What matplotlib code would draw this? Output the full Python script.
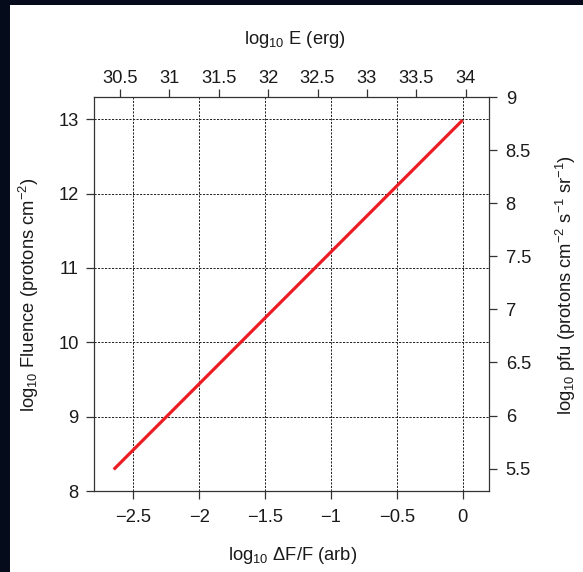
import matplotlib
matplotlib.use("Agg")
import matplotlib.pyplot as plt
from matplotlib.patches import Rectangle

plt.rcParams['font.family'] = ['Liberation Sans', 'DejaVu Sans']
plt.rcParams['mathtext.fontset'] = 'custom'
plt.rcParams['mathtext.rm'] = 'Liberation Sans'
plt.rcParams['mathtext.it'] = 'Liberation Sans'
plt.rcParams['mathtext.default'] = 'regular'

# Scaling relation: log10 fluence versus log10 dF/F
dff = [-2.65, 0.0]
fluence = [8.29, 12.99]

x_ticks = [-2.5, -2, -1.5, -1, -0.5, 0]
y_ticks = [8, 9, 10, 11, 12, 13]
energy_ticks = [30.5, 31, 31.5, 32, 32.5, 33, 33.5, 34]
pfu_ticks = [5.5, 6, 6.5, 7, 7.5, 8, 8.5, 9]

# axis conversions
E0, E_slope = 33.97, 4.0 / 3.0
P0, P_slope = -0.31, 0.7


def dff_to_E(x):
    return E0 + E_slope * x


def E_to_dff(e):
    return (e - E0) / E_slope


def flu_to_pfu(f):
    return P0 + P_slope * f


def pfu_to_flu(p):
    return (p - P0) / P_slope


W, H = 583, 572
FS = 13.2
fig = plt.figure(figsize=(W / 100, H / 100), dpi=100)
fig.patch.set_facecolor('#050b1a')
fig.add_artist(Rectangle((10 / W, 0), 1 - 10 / W, 1 - 5 / H,
                         transform=fig.transFigure, facecolor='white',
                         edgecolor='none', zorder=0))

ax = fig.add_axes([94 / W, 1 - 491 / H, (489 - 94) / W, (491 - 97) / H])
ax.set_facecolor('white')
ax.set_xlim(-2.8, 0.2)
ax.set_ylim(8, 13.3)

ax.plot(dff, fluence, color='#ec1c24', lw=2.3, solid_capstyle='butt', zorder=3)

grid_kw = dict(color='#222222', lw=0.7, linestyle=(0, (2.2, 1.4)), zorder=1)
for xv in x_ticks:
    ax.axvline(xv, **grid_kw)
for yv in y_ticks[1:]:
    ax.axhline(yv, **grid_kw)

txt = '#1a1a1a'
for s in ax.spines.values():
    s.set_color('#333333')
    s.set_linewidth(0.9)

ax.set_xticks(x_ticks)
ax.set_xticklabels(['\u22122.5', '\u22122', '\u22121.5', '\u22121', '\u22120.5', '0'])
ax.set_yticks(y_ticks)
ax.tick_params(direction='out', length=6, width=0.9, color='#333333',
               labelsize=FS, labelcolor=txt, pad=5)
ax.tick_params(axis='x', pad=7)

secx = ax.secondary_xaxis('top', functions=(dff_to_E, E_to_dff))
secx.set_xticks(energy_ticks)
secx.set_xticklabels(['30.5', '31', '31.5', '32', '32.5', '33', '33.5', '34'])
secx.tick_params(direction='out', length=6, width=0.9, color='#333333',
                 labelsize=FS, labelcolor=txt, pad=1)
secx.spines['top'].set_visible(False)

secy = ax.secondary_yaxis('right', functions=(flu_to_pfu, pfu_to_flu))
secy.set_yticks(pfu_ticks)
secy.set_yticklabels(['5.5', '6', '6.5', '7', '7.5', '8', '8.5', '9'])
secy.tick_params(direction='out', length=6, width=0.9, color='#333333',
                 labelsize=FS, labelcolor=txt, pad=6)
secy.spines['right'].set_visible(False)

fig.text(29 / W, 1 - 295 / H, 'log$_{10}$ Fluence (protons cm$^{-2}$)',
         rotation=90, ha='center', va='center', fontsize=FS, color=txt)
fig.text(566 / W, 1 - 285 / H, 'log$_{10}$ pfu (protons cm$^{-2}$ s$^{-1}$ sr$^{-1}$)',
         rotation=90, ha='center', va='center', fontsize=FS, color=txt)
fig.text(295 / W, 1 - 40 / H, 'log$_{10}$ E (erg)',
         ha='center', va='center', fontsize=FS, color=txt)
fig.text(293 / W, 1 - 556 / H, 'log$_{10}$ \u0394F/F (arb)',
         ha='center', va='center', fontsize=FS, color=txt)

fig.savefig('out.png', dpi=100, facecolor=fig.get_facecolor())
